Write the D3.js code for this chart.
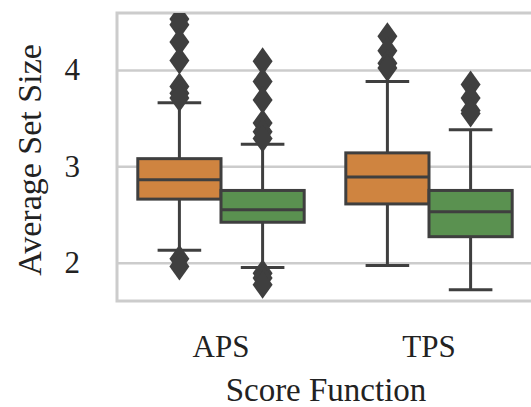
<!DOCTYPE html>
<html>
<head>
<meta charset="utf-8">
<script src="https://cdn.jsdelivr.net/npm/d3@7"></script>
<style>
  html, body { margin: 0; padding: 0; background: #ffffff; }
  svg { display: block; }
  text { font-family: "Liberation Serif", "Times New Roman", serif; fill: #222222; }
</style>
</head>
<body>
<svg id="chart" width="531" height="407"></svg>
<script>
// Score functions on the x axis, two groups (hue) per category
const categories = ["APS", "TPS"];
const groups = ["orange", "green"];
const yTicks = [2, 3, 4];

// Five-number summaries per category, in group order
const whiskerLow  = [[2.13, 1.95], [1.97, 1.72]];
const q1          = [[2.66, 2.42], [2.61, 2.27]];
const median      = [[2.86, 2.55], [2.89, 2.53]];
const q3          = [[3.08, 2.75], [3.14, 2.75]];
const whiskerHigh = [[3.66, 3.23], [3.88, 3.38]];

// Points beyond the whiskers
const outliers = [
  [
    [4.53, 4.47, 4.29, 4.10, 3.83, 3.76, 3.71, 2.04, 1.96],
    [4.09, 3.88, 3.69, 3.45, 3.36, 3.29, 1.89, 1.84, 1.77]
  ],
  [
    [4.35, 4.20, 4.07, 4.02],
    [3.85, 3.71, 3.58, 3.55]
  ]
];

const boxColors = { orange: "#cf8440", green: "#5a9150" };
const lineColor = "#3f3f3f";
const gridColor = "#cccccc";

const svg = d3.select("#chart");
const plot = { left: 117, right: 533, top: 13, bottom: 301 };

const x = d3.scaleBand().domain(categories).range([plot.left, plot.right]).padding(0);
const hue = d3.scaleBand().domain(groups).range([x.step() * 0.1, x.step() * 0.9]).padding(0);
const y = d3.scaleLinear().domain([1.6025, 4.592]).range([plot.bottom, plot.top]);

svg.append("defs").append("clipPath").attr("id", "plot-clip")
  .append("rect")
  .attr("x", plot.left).attr("y", plot.top)
  .attr("width", plot.right - plot.left).attr("height", plot.bottom - plot.top);

// Horizontal grid
const yAxis = d3.axisLeft(y).tickValues(yTicks).tickFormat(d3.format("d"))
  .tickSize(-(plot.right - plot.left)).tickPadding(37);
const yAxisG = svg.append("g").attr("transform", `translate(${plot.left},0)`).call(yAxis);
yAxisG.select(".domain").remove();
yAxisG.selectAll(".tick line").attr("stroke", gridColor).attr("stroke-width", 2.5);
yAxisG.selectAll(".tick text")
  .attr("font-size", 31).attr("fill", "#222222")
  .style("font-family", "'Liberation Serif', 'Times New Roman', serif");

// Frame
svg.append("rect")
  .attr("x", plot.left).attr("y", plot.top)
  .attr("width", plot.right - plot.left).attr("height", plot.bottom - plot.top)
  .attr("fill", "none").attr("stroke", gridColor).attr("stroke-width", 3);

// Boxes
const layer = svg.append("g").attr("clip-path", "url(#plot-clip)");
const boxes = [];
categories.forEach((cat, ci) => {
  groups.forEach((g, gi) => {
    boxes.push({
      cat, g,
      lo: whiskerLow[ci][gi], q1: q1[ci][gi], med: median[ci][gi],
      q3: q3[ci][gi], hi: whiskerHigh[ci][gi], out: outliers[ci][gi]
    });
  });
});

const bw = hue.bandwidth();
const cx = d => x(d.cat) + hue(d.g) + bw / 2;
const capHalf = bw / 4 + 1;

const items = layer.selectAll("g.box").data(boxes).enter().append("g").attr("class", "box");

items.append("line")
  .attr("x1", cx).attr("x2", cx)
  .attr("y1", d => y(d.q3)).attr("y2", d => y(d.hi))
  .attr("stroke", lineColor).attr("stroke-width", 3);
items.append("line")
  .attr("x1", cx).attr("x2", cx)
  .attr("y1", d => y(d.q1)).attr("y2", d => y(d.lo))
  .attr("stroke", lineColor).attr("stroke-width", 3);
items.append("line")
  .attr("x1", d => cx(d) - capHalf).attr("x2", d => cx(d) + capHalf)
  .attr("y1", d => y(d.hi)).attr("y2", d => y(d.hi))
  .attr("stroke", lineColor).attr("stroke-width", 3);
items.append("line")
  .attr("x1", d => cx(d) - capHalf).attr("x2", d => cx(d) + capHalf)
  .attr("y1", d => y(d.lo)).attr("y2", d => y(d.lo))
  .attr("stroke", lineColor).attr("stroke-width", 3);

items.append("rect")
  .attr("x", d => x(d.cat) + hue(d.g))
  .attr("width", bw)
  .attr("y", d => y(d.q3))
  .attr("height", d => y(d.q1) - y(d.q3))
  .attr("fill", d => boxColors[d.g])
  .attr("stroke", lineColor).attr("stroke-width", 3);

items.append("line")
  .attr("x1", d => x(d.cat) + hue(d.g)).attr("x2", d => x(d.cat) + hue(d.g) + bw)
  .attr("y1", d => y(d.med)).attr("y2", d => y(d.med))
  .attr("stroke", lineColor).attr("stroke-width", 3);

// Outlier diamonds
const diamond = "M0,-14L10,0L0,14L-10,0Z";
items.each(function(d) {
  d3.select(this).selectAll("path.flier").data(d.out).enter().append("path")
    .attr("class", "flier")
    .attr("d", diamond)
    .attr("transform", v => `translate(${cx(d)},${y(v)})`)
    .attr("fill", lineColor);
});

// Category labels
const xAxis = d3.axisBottom(x).tickSize(0).tickPadding(0);
const xAxisG = svg.append("g").attr("transform", `translate(0,${plot.bottom})`).call(xAxis);
xAxisG.select(".domain").remove();
xAxisG.selectAll(".tick text")
  .attr("y", 56).attr("dy", 0)
  .attr("font-size", 31).attr("fill", "#222222")
  .style("font-family", "'Liberation Serif', 'Times New Roman', serif");

// Axis titles
svg.append("text")
  .attr("x", 326).attr("y", 401)
  .attr("text-anchor", "middle").attr("font-size", 33)
  .text("Score Function");

svg.append("text")
  .attr("transform", "translate(41,160) rotate(-90)")
  .attr("text-anchor", "middle").attr("font-size", 34)
  .text("Average Set Size");
</script>
</body>
</html>
